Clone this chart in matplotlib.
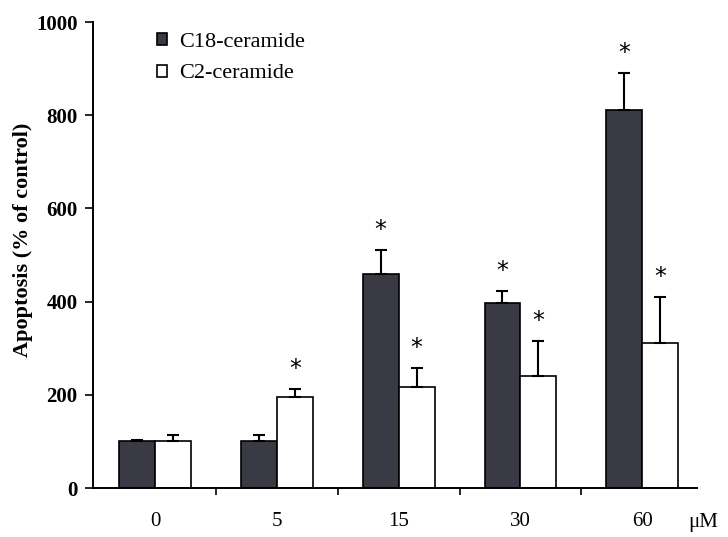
import matplotlib
matplotlib.use("Agg")
import matplotlib.pyplot as plt
import numpy as np

doses = ["0", "5", "15", "30", "60"]
c18_mean = [100, 100, 460, 397, 812]
c18_err = [3, 13, 50, 26, 78]
c2_mean = [100, 195, 217, 240, 311]
c2_err = [14, 17, 40, 75, 99]
c18_sig = [False, False, True, True, True]
c2_sig = [False, True, True, True, True]

plt.rcParams['font.family'] = ['Liberation Serif', 'DejaVu Serif']

fig = plt.figure(figsize=(7.28, 5.37), dpi=100)
ax = fig.add_axes([93/728, 49/537, (697-93)/728, (488-22)/537])

x = np.arange(len(doses))
w = 0.295
dark = '#3a3a44'
ax.bar(x - w/2, c18_mean, width=w, color=dark, edgecolor='black', linewidth=1.2, label='C18-ceramide', zorder=2)
ax.bar(x + w/2, c2_mean, width=w, color='white', edgecolor='black', linewidth=1.2, label='C2-ceramide', zorder=2)
ax.errorbar(x - w/2, c18_mean, yerr=[np.zeros(len(x)), c18_err], fmt='none', ecolor='black', elinewidth=1.5, capsize=4, capthick=1.5, zorder=3)
ax.errorbar(x + w/2, c2_mean, yerr=[np.zeros(len(x)), c2_err], fmt='none', ecolor='black', elinewidth=1.5, capsize=4, capthick=1.5, zorder=3)

for i in range(len(x)):
    if c18_sig[i]:
        ax.annotate('*', (x[i] - w/2, c18_mean[i] + c18_err[i]), xytext=(0, 6), textcoords='offset points', ha='center', va='bottom', fontsize=17, family='DejaVu Sans')
    if c2_sig[i]:
        ax.annotate('*', (x[i] + w/2, c2_mean[i] + c2_err[i]), xytext=(0, 6), textcoords='offset points', ha='center', va='bottom', fontsize=17, family='DejaVu Sans')

ax.set_xlim(-0.51, 4.45)
ax.set_ylim(0, 1000)
ax.set_yticks([0, 200, 400, 600, 800, 1000])
ax.set_yticklabels(['0', '200', '400', '600', '800', '1000'], fontweight='bold', fontsize=15)
ax.tick_params(axis='y', direction='out', length=6, width=1.2, pad=5)

ax.set_xticks([0.5, 1.5, 2.5, 3.5])
ax.set_xticklabels([])
ax.tick_params(axis='x', which='major', direction='out', length=5, width=1.2)
ax.set_xticks(x, minor=True)
ax.set_xticklabels(doses, minor=True, fontsize=15)
ax.tick_params(axis='x', which='minor', length=0, pad=17)

ax.text((688-93)/604, -0.074, 'μM', transform=ax.transAxes, ha='left', va='center', fontsize=15)

ax.set_ylabel('Apoptosis (% of control)', fontweight='bold', fontsize=16)
ax.yaxis.set_label_coords((23-93)/604, (488-240)/466)
ax.yaxis.label.set_va('center')

for s in ['top', 'right']:
    ax.spines[s].set_visible(False)
for s in ['left', 'bottom']:
    ax.spines[s].set_linewidth(1.4)

leg = ax.legend(loc='upper left', bbox_to_anchor=((157-93)/604, (488-33)/466), frameon=False, fontsize=16,
                borderpad=0, borderaxespad=0,
                handlelength=0.45, handleheight=0.45, handletextpad=0.55, labelspacing=0.56)

fig.savefig('out.png', dpi=100)
